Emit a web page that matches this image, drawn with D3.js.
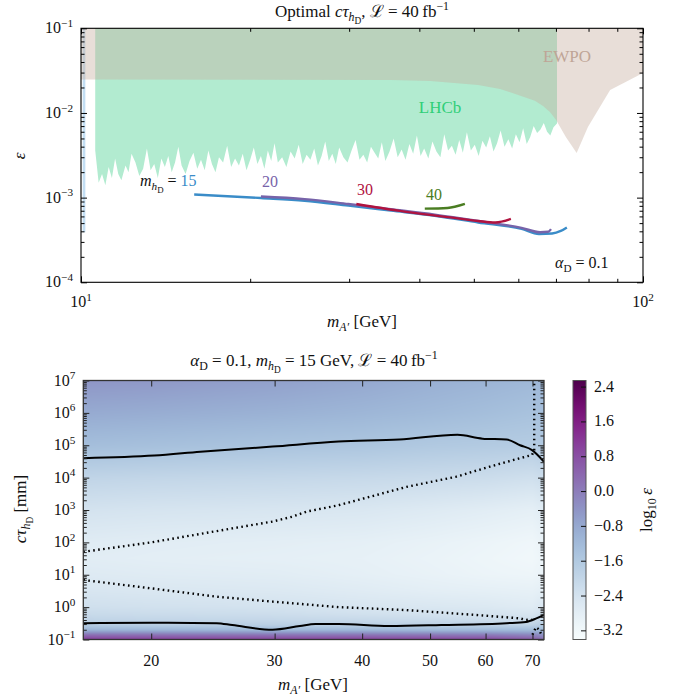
<!DOCTYPE html>
<html>
<head>
<meta charset="utf-8">
<script src="https://cdn.jsdelivr.net/npm/d3@7"></script>
<style>
  body { margin: 0; background: #fff; }
  svg { display: block; }
  text { font-family: "Liberation Serif", "DejaVu Serif", serif; fill: #111; }
</style>
</head>
<body>
<svg id="chart" width="683" height="698"></svg>
<script>
// ---------- data: top panel ----------
var ewpoMass = [10, 35.6, 41.8, 50.9, 55.7, 60.7, 64.2, 66.4, 68.3, 70.0, 72.9, 76.2, 79.8, 87.4, 100];
var ewpoEps  = [0.0249, 0.0245, 0.0239, 0.0214, 0.0192, 0.0159, 0.0139, 0.0121, 0.0103, 0.0083, 0.0052, 0.00337, 0.00684, 0.0187, 0.0296];

var stripMass = [10.07, 10.18];
var stripEps = [0.1, 3.9e-4];

var lhcbMass = [
  10.6, 10.75, 10.9, 11.05, 11.2, 11.35, 11.5, 11.65, 11.8, 12.0,
  12.15, 12.3, 12.5, 12.7, 12.9, 13.1, 13.3, 13.5, 13.7, 13.9,
  14.1, 14.3, 14.5, 14.7, 14.9, 15.1, 15.35, 15.6, 15.85, 16.1,
  16.35, 16.6, 16.85, 17.1, 17.35, 17.6, 17.9, 18.2, 18.5, 18.8,
  19.1, 19.4, 19.7, 20.0, 20.3, 20.6, 20.9, 21.2, 21.5, 21.8,
  22.1, 22.4, 22.8, 23.2, 23.6, 24.0, 24.4, 24.8, 25.2, 25.6,
  26.0, 26.4, 26.8, 27.2, 27.6, 28.0, 28.4, 28.8, 29.3, 29.8,
  30.3, 30.8, 31.3, 31.8, 32.3, 32.8, 33.3, 33.8, 34.3, 34.8,
  35.4, 36.0, 36.6, 37.2, 37.8, 38.4, 39.0, 39.6, 40.2, 40.8,
  41.5, 42.2, 42.9, 43.6, 44.3, 45.0, 45.7, 46.4, 47.1, 47.8,
  48.6, 49.4, 50.2, 51.0, 51.8, 52.6, 53.4, 54.2, 55.0, 55.8,
  56.7, 57.6, 58.5, 59.4, 60.3, 61.2, 62.1, 63.0, 63.9, 64.8,
  65.7, 66.6, 67.5, 68.4, 69.3, 70.3];
var lhcbEps = [
  3.6e-3, 1.5e-3, 1.9e-3, 1.4e-3, 2.3e-3, 1.7e-3, 2.9e-3, 1.9e-3, 1.6e-3, 2.4e-3,
  2.0e-3, 3.3e-3, 2.6e-3, 1.8e-3, 2.2e-3, 3.8e-3, 2.1e-3, 2.5e-3, 1.7e-3, 2.9e-3,
  2.3e-3, 3.1e-3, 2.0e-3, 2.6e-3, 4.0e-3, 2.4e-3, 1.9e-3, 2.7e-3, 3.4e-3, 2.2e-3,
  2.8e-3, 2.1e-3, 3.6e-3, 2.5e-3, 2.0e-3, 3.0e-3, 2.6e-3, 4.1e-3, 2.3e-3, 2.9e-3,
  2.4e-3, 3.3e-3, 2.1e-3, 2.8e-3, 3.9e-3, 2.5e-3, 3.1e-3, 2.2e-3, 3.6e-3, 2.7e-3,
  4.4e-3, 2.6e-3, 3.0e-3, 2.3e-3, 3.5e-3, 2.9e-3, 4.2e-3, 2.5e-3, 3.2e-3, 2.8e-3,
  3.8e-3, 2.4e-3, 3.1e-3, 4.6e-3, 2.7e-3, 3.3e-3, 2.5e-3, 3.9e-3, 3.0e-3, 2.6e-3,
  3.6e-3, 4.8e-3, 2.8e-3, 3.2e-3, 2.6e-3, 4.0e-3, 3.4e-3, 2.9e-3, 4.5e-3, 2.7e-3,
  3.5e-3, 5.0e-3, 3.0e-3, 3.7e-3, 2.8e-3, 4.3e-3, 3.3e-3, 5.4e-3, 3.1e-3, 3.8e-3,
  2.9e-3, 4.6e-3, 3.5e-3, 3.0e-3, 5.6e-3, 3.6e-3, 4.1e-3, 3.2e-3, 4.8e-3, 3.4e-3,
  5.9e-3, 3.6e-3, 4.2e-3, 3.1e-3, 4.7e-3, 3.9e-3, 5.3e-3, 3.5e-3, 4.4e-3, 6.2e-3,
  4.0e-3, 4.9e-3, 3.8e-3, 5.6e-3, 4.5e-3, 6.6e-3, 4.3e-3, 5.2e-3, 7.0e-3, 5.8e-3,
  6.4e-3, 7.6e-3, 6.0e-3, 5.4e-3, 6.8e-3, 7.5e-3];

var hdSeries = [
  { label: "15", color: "#3a8cc8",
    mass: [15.9, 20.9, 25.0, 29.9, 35.6, 42.6, 50.9, 60.8, 65.3, 68.9, 71.4, 73.2],
    eps:  [1.09e-3, 9.9e-4, 9.2e-4, 8.05e-4, 7.03e-4, 6.11e-4, 5.09e-4, 4.27e-4, 3.72e-4, 3.77e-4, 4.04e-4, 4.45e-4] },
  { label: "20", color: "#7763a9",
    mass: [20.9, 25.0, 29.9, 35.6, 42.6, 50.9, 60.8, 65.6, 67.8, 68.6],
    eps:  [1.03e-3, 9.6e-4, 8.4e-4, 7.3e-4, 6.3e-4, 5.3e-4, 4.4e-4, 3.9e-4, 3.95e-4, 4.25e-4] },
  { label: "30", color: "#b0133f",
    mass: [30.9, 36.9, 45.4, 50.9, 54.6, 58.2],
    eps:  [8.4e-4, 6.97e-4, 5.84e-4, 5.3e-4, 5.09e-4, 5.6e-4] },
  { label: "40", color: "#4a7d22",
    mass: [40.9, 44.9, 48.2],
    eps:  [7.41e-4, 7.55e-4, 8.43e-4] }
];

// ---------- data: bottom panel ----------
var hmMass = [16, 20, 30, 40, 50, 60, 70, 72.7];
var hmCtau = [0.1, 0.14, 0.2, 0.28, 0.4, 0.63, 1, 3.16, 10, 31.6, 100, 1e3, 1e4, 1e5, 1e6, 1e7];
var hmLogEps = [
  [ 1.10,  1.05,  1.00,  1.00,  0.95,  0.90,  0.60,  0.20],
  [ 0.20,  0.15,  0.10,  0.10,  0.05,  0.00, -0.20, -0.40],
  [-1.10, -1.15, -1.20, -1.20, -1.25, -1.25, -1.30, -1.20],
  [-1.70, -1.75, -1.80, -1.85, -1.90, -1.90, -1.90, -1.70],
  [-1.95, -2.00, -2.05, -2.10, -2.15, -2.20, -2.25, -2.00],
  [-2.15, -2.20, -2.25, -2.35, -2.40, -2.45, -2.50, -2.30],
  [-2.30, -2.35, -2.40, -2.50, -2.55, -2.60, -2.70, -2.50],
  [-2.50, -2.55, -2.60, -2.70, -2.80, -2.85, -2.90, -2.80],
  [-2.65, -2.70, -2.75, -2.85, -2.95, -3.05, -3.10, -3.00],
  [-2.75, -2.80, -2.85, -2.90, -3.00, -3.10, -3.20, -3.05],
  [-2.70, -2.75, -2.80, -2.85, -2.95, -3.05, -3.15, -3.00],
  [-2.40, -2.45, -2.50, -2.55, -2.65, -2.75, -2.85, -2.70],
  [-1.95, -2.00, -2.05, -2.10, -2.15, -2.20, -2.30, -2.20],
  [-1.30, -1.35, -1.45, -1.50, -1.60, -1.65, -1.70, -1.60],
  [-0.85, -0.90, -1.00, -1.10, -1.20, -1.30, -1.40, -1.35],
  [-0.45, -0.50, -0.65, -0.80, -0.95, -1.05, -1.15, -1.10]
];

var solidHiMass = [16, 20.2, 23.5, 29.8, 37.0, 45.2, 54.7, 59.4, 64.3, 67.2, 69.9, 72.7];
var solidHiCtau = [4.0e4, 4.8e4, 6.3e4, 9.1e4, 1.3e5, 1.5e5, 2.1e5, 1.6e5, 1.5e5, 1.0e5, 7.1e4, 3.1e4];
var solidLoMass = [16, 20, 24.8, 26.1, 29.8, 32.6, 34.3, 37, 43.7, 51.9, 64.3, 68.5, 70.9, 72.7];
var solidLoCtau = [0.32, 0.33, 0.32, 0.28, 0.20, 0.26, 0.30, 0.30, 0.26, 0.28, 0.32, 0.35, 0.45, 0.58];
var dotHiMass = [16, 20, 26.1, 29.8, 31.8, 33.3, 37.0, 46.3, 54.5, 60.9, 67.2, 69.9, 70.4, 70.4];
var dotHiCtau = [51, 100, 270, 440, 620, 890, 1400, 5200, 1.07e4, 2.2e4, 4.0e4, 5.0e4, 7.1e4, 1e7];
var dotLoMass = [16, 20, 24.8, 29.8, 37.0, 46.3, 57.6, 67.2, 68.5, 69.8];
var dotLoCtau = [6.9, 3.8, 2.1, 1.48, 1.0, 0.81, 0.58, 0.45, 0.40, 0.42];
var dotArcMass = [70.0, 70.8, 71.6, 72.2];
var dotArcCtau = [0.14, 0.24, 0.20, 0.126];

var cbTicks = [-3.2, -2.4, -1.6, -0.8, 0.0, 0.8, 1.6, 2.4];
var bottomXTicks = [20, 30, 40, 50, 60, 70];

// ---------- helpers ----------
var svg = d3.select("#chart");
var FS_TICK = 16, FS_LAB = 17;

// text with sub/superscripts: parts = [text, "i"|"", level(0 base,1 sub,2 subsub,-1 sup), color]
function mtext(g, x, y, parts, opts) {
  opts = opts || {};
  var fs = opts.size || FS_LAB;
  var t = g.append("text").attr("x", x).attr("y", y)
    .attr("font-size", fs)
    .attr("text-anchor", opts.anchor || "middle");
  if (opts.rotate) t.attr("transform", "rotate(" + opts.rotate + "," + x + "," + y + ")");
  if (opts.fill) t.style("fill", opts.fill);
  var offs = { "0": 0, "1": 0.25, "2": 0.42, "-1": -0.4 };
  var szs = { "0": 1, "1": 0.7, "2": 0.55, "-1": 0.7 };
  var cur = 0;
  parts.forEach(function(p) {
    var lvl = String(p[2] || 0);
    var off = offs[lvl] * fs;
    var ts = t.append("tspan").attr("dy", off - cur).attr("font-size", szs[lvl] * fs).text(p[0]);
    if (p[1] === "i") ts.attr("font-style", "italic");
    if (p[3]) ts.style("fill", p[3]);
    cur = off;
  });
  return t;
}

function tickSet(g, axisFn, scale, vals, size, tx, ty, color) {
  g.append("g").attr("transform", "translate(" + tx + "," + ty + ")")
    .call(axisFn(scale).tickValues(vals).tickSize(size).tickFormat(""))
    .call(function(s) {
      s.select(".domain").remove();
      s.selectAll("line").attr("stroke", color || "#000").attr("stroke-width", 1);
    });
}

function logTicks(lo, hi) {
  var major = [], minor = [];
  for (var e = Math.floor(Math.log10(lo)); e <= Math.ceil(Math.log10(hi)); e++) {
    for (var k = 1; k < 10; k++) {
      var v = k * Math.pow(10, e);
      if (v < lo * 0.999 || v > hi * 1.001) continue;
      (k === 1 ? major : minor).push(v);
    }
  }
  return { major: major, minor: minor };
}

function powLabel(v) {
  return [["10"], [String(Math.round(Math.log10(v))).replace("-", "\u2212"), "", -1]];
}

// ================= TOP PANEL =================
var T = { left: 81, right: 643, top: 28.3, bottom: 282.3 };
var xT = d3.scaleLog().domain([10, 100]).range([T.left, T.right]);
var yT = d3.scaleLog().domain([1e-4, 1e-1]).range([T.bottom, T.top]);

var gTop = svg.append("g");
gTop.append("clipPath").attr("id", "clipT").append("rect")
  .attr("x", T.left).attr("y", T.top).attr("width", T.right - T.left).attr("height", T.bottom - T.top);
var plotT = gTop.append("g").attr("clip-path", "url(#clipT)");

// thin blue strip at the left edge
plotT.append("rect")
  .attr("x", xT(stripMass[0])).attr("width", xT(stripMass[1]) - xT(stripMass[0]))
  .attr("y", yT(stripEps[0])).attr("height", yT(stripEps[1]) - yT(stripEps[0]))
  .attr("fill", "#c3def3");

// LHCb region
var lhcbPts = [[lhcbMass[0], 0.2]].concat(lhcbMass.map(function(m, i) { return [m, lhcbEps[i]]; }))
  .concat([[lhcbMass[lhcbMass.length - 1], 0.2]]);
plotT.append("path")
  .attr("d", d3.line().x(function(d) { return xT(d[0]); }).y(function(d) { return yT(d[1]); })(lhcbPts) + "Z")
  .attr("fill", "#b2ebd0");

// EWPO region
var ewpoPts = [[10, 0.2]].concat(ewpoMass.map(function(m, i) { return [m, ewpoEps[i]]; })).concat([[100, 0.2]]);
plotT.append("path")
  .attr("d", d3.line().x(function(d) { return xT(d[0]); }).y(function(d) { return yT(d[1]); })(ewpoPts) + "Z")
  .attr("fill", "#c6ad9e").attr("fill-opacity", 0.4);

// lines for each m_hD
hdSeries.forEach(function(s) {
  var pts = s.mass.map(function(m, i) { return [m, s.eps[i]]; });
  plotT.append("path")
    .attr("d", d3.line().curve(d3.curveMonotoneX)
      .x(function(d) { return xT(d[0]); }).y(function(d) { return yT(d[1]); })(pts))
    .attr("fill", "none").attr("stroke", s.color).attr("stroke-width", 2.4)
    .attr("stroke-linejoin", "round");
});

// labels
mtext(gTop, 440, 113, [["LHCb"]], { size: 17, fill: "#2fcf78" });
mtext(gTop, 567, 62, [["EWPO"]], { size: 17, fill: "#bfa596" });
mtext(gTop, 140, 186, [["m", "i"], ["h", "i", 1], ["D", "", 2], [" = "], ["15", "", 0, hdSeries[0].color]], { anchor: "start", size: 16 });
mtext(gTop, 270, 187, [[hdSeries[1].label]], { fill: hdSeries[1].color, size: 16 });
mtext(gTop, 365, 195, [[hdSeries[2].label]], { fill: hdSeries[2].color, size: 16 });
mtext(gTop, 434, 200, [[hdSeries[3].label]], { fill: hdSeries[3].color, size: 16 });
mtext(gTop, 555, 268, [["α", "i"], ["D", "", 1], [" = 0.1"]], { anchor: "start", size: 16 });

// frame and ticks
var xtT = logTicks(10, 100), ytT = logTicks(1e-4, 1e-1);
tickSet(gTop, d3.axisBottom, xT, xtT.major, -6, 0, T.bottom);
tickSet(gTop, d3.axisBottom, xT, xtT.minor, -3.5, 0, T.bottom);
tickSet(gTop, d3.axisTop, xT, xtT.major, -6, 0, T.top);
tickSet(gTop, d3.axisTop, xT, xtT.minor, -3.5, 0, T.top);
tickSet(gTop, d3.axisLeft, yT, ytT.major, -6, T.left, 0);
tickSet(gTop, d3.axisLeft, yT, ytT.minor, -3.5, T.left, 0);
tickSet(gTop, d3.axisRight, yT, ytT.major, -6, T.right, 0);
tickSet(gTop, d3.axisRight, yT, ytT.minor, -3.5, T.right, 0);
gTop.append("rect").attr("x", T.left).attr("y", T.top)
  .attr("width", T.right - T.left).attr("height", T.bottom - T.top)
  .attr("fill", "none").attr("stroke", "#000").attr("stroke-width", 1.1);

xtT.major.forEach(function(v) {
  mtext(gTop, xT(v), 307, powLabel(v), { size: FS_TICK });
});
ytT.major.forEach(function(v) {
  mtext(gTop, T.left - 8, yT(v) + 5, powLabel(v), { anchor: "end", size: FS_TICK });
});
mtext(gTop, 362, 17, [["Optimal "], ["c\u03c4", "i"], ["h", "i", 1], ["D", "", 2], [", \u2112 = 40\u2009fb"], ["\u22121", "", -1]]);
mtext(gTop, 362, 327, [["m", "i"], ["A\u2032", "i", 1], [" [GeV]"]]);
mtext(gTop, 25, 156, [["\u03b5", "i"]], { rotate: -90 });

// ================= BOTTOM PANEL =================
var B = { left: 83.3, right: 544, top: 380.5, bottom: 639.5 };
var xB = d3.scaleLog().domain([16, 72.7]).range([B.left, B.right]);
var yB = d3.scaleLog().domain([0.1, 1e7]).range([B.bottom, B.top]);
var color = d3.scaleSequential(d3.interpolateBuPu).domain([-3.41, 2.54]);

var gBot = svg.append("g");
gBot.append("clipPath").attr("id", "clipB").append("rect")
  .attr("x", B.left).attr("y", B.top).attr("width", B.right - B.left).attr("height", B.bottom - B.top);
var plotB = gBot.append("g").attr("clip-path", "url(#clipB)");

// heatmap drawn to a canvas, shaded between grid nodes
(function() {
  var W = Math.round(B.right - B.left), H = Math.round(B.bottom - B.top);
  var cv = document.createElement("canvas");
  cv.width = W; cv.height = H;
  var ctx = cv.getContext("2d");
  var img = ctx.createImageData(W, H);
  var lm = hmMass.map(Math.log10), lc = hmCtau.map(Math.log10);
  function bracket(arr, v) {
    var i = 0;
    while (i < arr.length - 2 && v > arr[i + 1]) i++;
    var f = (v - arr[i]) / (arr[i + 1] - arr[i]);
    return [i, Math.max(0, Math.min(1, f))];
  }
  for (var py = 0; py < H; py++) {
    var c = Math.log10(yB.invert(B.top + py + 0.5));
    var bj = bracket(lc, c);
    for (var px = 0; px < W; px++) {
      var m = Math.log10(xB.invert(B.left + px + 0.5));
      var bi = bracket(lm, m);
      var i = bi[0], fx = bi[1], j = bj[0], fy = bj[1];
      var v = (1 - fy) * ((1 - fx) * hmLogEps[j][i] + fx * hmLogEps[j][i + 1]) +
              fy * ((1 - fx) * hmLogEps[j + 1][i] + fx * hmLogEps[j + 1][i + 1]);
      var col = d3.rgb(color(v));
      var k = (py * W + px) * 4;
      img.data[k] = col.r; img.data[k + 1] = col.g; img.data[k + 2] = col.b; img.data[k + 3] = 255;
    }
  }
  ctx.putImageData(img, 0, 0);
  plotB.append("image").attr("x", B.left).attr("y", B.top).attr("width", W).attr("height", H)
    .attr("preserveAspectRatio", "none").attr("href", cv.toDataURL());
})();

function contour(mass, ctau, dotted) {
  var pts = mass.map(function(m, i) { return [m, ctau[i]]; });
  var line = d3.line().x(function(d) { return xB(d[0]); }).y(function(d) { return yB(d[1]); });
  if (!dotted) line.curve(d3.curveMonotoneX);
  var p = plotB.append("path").attr("d", line(pts))
    .attr("fill", "none").attr("stroke", "#000");
  if (dotted) p.attr("stroke-width", 2.4).attr("stroke-dasharray", "1.6,3.4");
  else p.attr("stroke-width", 2).attr("stroke-linejoin", "round");
}
contour(solidHiMass, solidHiCtau, false);
contour(solidLoMass, solidLoCtau, false);
contour(dotHiMass, dotHiCtau, true);
contour(dotLoMass, dotLoCtau, true);
contour(dotArcMass, dotArcCtau, true);

var ytB = logTicks(0.1, 1e7);
tickSet(gBot, d3.axisBottom, xB, bottomXTicks, -6, 0, B.bottom, "#222");
tickSet(gBot, d3.axisTop, xB, bottomXTicks, -6, 0, B.top, "#222");
tickSet(gBot, d3.axisLeft, yB, ytB.major, -6, B.left, 0, "#222");
tickSet(gBot, d3.axisLeft, yB, ytB.minor, -3.5, B.left, 0, "#222");
tickSet(gBot, d3.axisRight, yB, ytB.major, -6, B.right, 0, "#222");
tickSet(gBot, d3.axisRight, yB, ytB.minor, -3.5, B.right, 0, "#222");
gBot.append("rect").attr("x", B.left).attr("y", B.top)
  .attr("width", B.right - B.left).attr("height", B.bottom - B.top)
  .attr("fill", "none").attr("stroke", "#333").attr("stroke-width", 1.3);

bottomXTicks.forEach(function(v) { mtext(gBot, xB(v), 666, [[String(v)]], { size: FS_TICK }); });
ytB.major.forEach(function(v) {
  mtext(gBot, B.left - 8, yB(v) + 5, powLabel(v), { anchor: "end", size: FS_TICK });
});
mtext(gBot, 314, 366, [["α", "i"], ["D", "", 1], [" = 0.1, "], ["m", "i"], ["h", "i", 1], ["D", "", 2],
  [" = 15 GeV, \u2112 = 40\u2009fb"], ["\u22121", "", -1]]);
mtext(gBot, 313, 690, [["m", "i"], ["A\u2032", "i", 1], [" [GeV]"]]);
mtext(gBot, 26, 509, [["c\u03c4", "i"], ["h", "i", 1], ["D", "", 2], [" [mm]"]], { rotate: -90 });

// colorbar
var CB = { left: 573, right: 586 };
var yC = d3.scaleLinear().domain(color.domain()).range([B.bottom, B.top]);
var grad = svg.append("defs").append("linearGradient").attr("id", "cbGrad")
  .attr("x1", 0).attr("y1", 1).attr("x2", 0).attr("y2", 0);
d3.range(0, 1.0001, 0.05).forEach(function(t) {
  grad.append("stop").attr("offset", t).attr("stop-color", d3.interpolateBuPu(t));
});
svg.append("rect").attr("x", CB.left).attr("y", B.top).attr("width", CB.right - CB.left)
  .attr("height", B.bottom - B.top).attr("fill", "url(#cbGrad)")
  .attr("stroke", "#555").attr("stroke-width", 1);
tickSet(svg, d3.axisRight, yC, cbTicks, -5, CB.right, 0, "#111");
cbTicks.forEach(function(v) {
  mtext(svg, 594, yC(v) + 5, [[d3.format(".1f")(v)]], { anchor: "start", size: FS_TICK });
});
mtext(svg, 652, 510, [["log"], ["10", "", 1], ["\u2009"], ["\u03b5", "i"]], { rotate: -90 });
</script>
</body>
</html>
